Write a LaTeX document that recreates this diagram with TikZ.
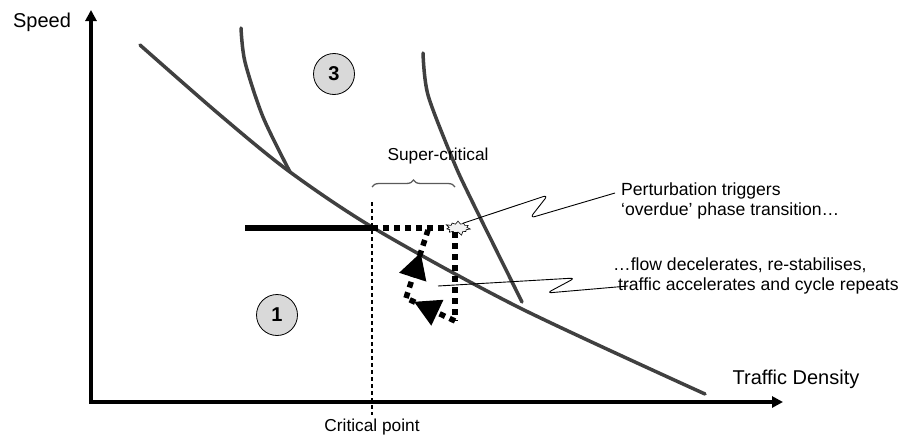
\documentclass[tikz,border=0pt]{standalone}
\usepackage{fontspec}
\setmainfont{Liberation Sans}
\usetikzlibrary{arrows.meta, positioning, shapes.symbols, decorations.pathreplacing, decorations.markings}
\definecolor{curvegray}{RGB}{64, 64, 64}
\definecolor{bracegray}{RGB}{90, 90, 90}
\definecolor{phasefill}{RGB}{217, 217, 217}
\definecolor{burstfill}{RGB}{242, 242, 242}
\tikzset{
    axis/.style={line width=3.5pt, line join=miter, {Triangle[length=11pt,width=11pt]}-{Triangle[length=11pt,width=11pt]}},
    axislabel/.style={font=\fontsize{20}{24}\selectfont},
    flowcurve/.style={curvegray, line width=3.5pt, line cap=round},
    phase/.style={circle, draw=black, line width=0.8pt, fill=phasefill, minimum size=41pt, inner sep=0pt, font=\fontsize{20}{24}\selectfont\bfseries},
    critline/.style={black, line width=1.3pt, dash pattern=on 4pt off 3pt},
    bracket/.style={bracegray, line width=1.3pt, decorate, decoration={brace, amplitude=7pt}},
    stable/.style={black, line width=5.5pt},
    cycleline/.style={black, line width=5.5pt, dash pattern=on 6pt off 5pt},
    midarrow/.style={postaction={decorate, decoration={markings, mark=at position #1 with {\arrow{Triangle[length=26pt,width=27pt]}}}}},
    burst/.style={starburst, starburst points=11, starburst point height=4pt, draw=black, line width=0.6pt, fill=burstfill, minimum width=26pt, minimum height=16pt, inner sep=0pt},
    callout/.style={black, line width=0.9pt, rounded corners=5pt},
    note/.style={align=left, inner sep=0pt, font=\fontsize{17.6}{20.8}\selectfont}
}

\begin{document}
\begin{tikzpicture}[x=1pt, y=-1pt, font=\fontsize{17.3}{21}\selectfont]
    \useasboundingbox (0,0) rectangle (905,439);

    \coordinate (origin) at (91,402);
    \coordinate (ytip) at (91,10);
    \coordinate (xtip) at (783,402);
    \draw [axis] (ytip) -- (origin) -- (xtip);
    \node (speed) [axislabel] at (42,22) {Speed};
    \node (density) [axislabel] at (796,379) {Traffic Density};

    \draw [flowcurve] plot[smooth] coordinates {(140,45) (220,115) (290,172) (377,230) (520,308) (705,394)};
    \draw [flowcurve] plot[smooth] coordinates {(241,28) (245,62) (263,117) (290,172)};
    \draw [flowcurve] plot[smooth] coordinates {(423,53) (428,95) (453,160) (470,197) (522,302)};

    \node (phase3) [phase] at (334,74) {3};
    \node (phase1) [phase] at (277,315) {1};

    \node (critlabel) at (372,427) {Critical point};
    \coordinate (crittop) at (372,202);
    \draw [critline] (crittop) -- (critlabel.north);

    \node (super) at (438,156) {Super-critical};
    \coordinate (braceleft) at (372,187);
    \coordinate (braceright) at (455,187);
    \draw [bracket] (braceleft) -- (braceright);

    \coordinate (hstart) at (245,228);
    \coordinate (crit) at (372,228);
    \node (burst) [burst] at (458,228) {};
    \draw [stable] (hstart) -- (crit);
    \draw [cycleline] (crit) -- (burst.west);

    \coordinate (dropend) at (455,321);
    \coordinate (turn) at (406,298);
    \coordinate (rejoin) at (428,230);
    \draw [cycleline] (burst.south -| dropend) -- (dropend);
    \draw [cycleline, midarrow=0.84] (dropend) -- (turn);
    \draw [cycleline, midarrow=0.67] (turn) -- (rejoin);

    \node (perturb) [note, anchor=west] at (621,201) {Perturbation triggers\\‘overdue’ phase transition…};
    \node (repeat) [note, anchor=west] at (613,276) {…flow decelerates, re-stabilises,\\\hspace*{5pt}traffic accelerates and cycle repeats};

    \draw [callout] (burst.north east) -- (548,195) -- (530,218) -- ([shift={(-6,-8)}]perturb.west);
    \coordinate (cyclepoint) at (438,286);
    \draw [callout] (cyclepoint) -- (575,278) -- (547,293) -- ([shift={(15,10)}]repeat.west);
\end{tikzpicture}
\end{document}
